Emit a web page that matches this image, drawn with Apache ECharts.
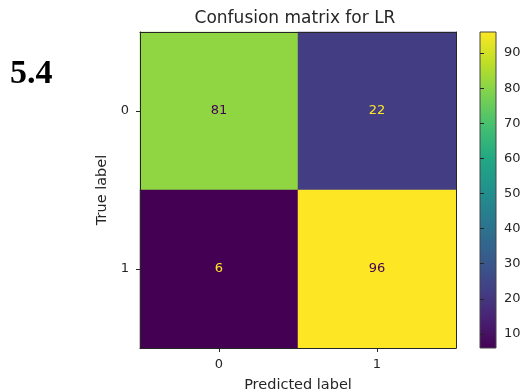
<!DOCTYPE html>
<html>
<head>
<meta charset="utf-8">
<script src="https://cdn.jsdelivr.net/npm/echarts@6/dist/echarts.min.js"></script>
<style>
  html, body { margin: 0; padding: 0; background: #fff; }
  #chart { width: 524px; height: 391px; position: relative; }
  #tag { position: absolute; left: 10px; top: 53px; line-height: 1; font: bold 34px "Liberation Serif", "DejaVu Serif", serif; color: #000; }
</style>
</head>
<body>
<div id="chart"></div>
<div id="tag">5.4</div>
<script>
// Confusion matrix for a logistic regression classifier
const predictedLabels = ['0', '1'];
const trueLabels = ['0', '1'];
// counts[row = true label][col = predicted label]
const counts = [
  [81, 22],
  [6, 96]
];
const colorbarTicks = [10, 20, 30, 40, 50, 60, 70, 80, 90];

// viridis colour stops
const viridis = ['#440154', '#482475', '#414487', '#355f8d', '#2a788e', '#21918c',
                 '#22a884', '#44bf70', '#7ad151', '#bddf26', '#fde725'];

let vMin = Infinity, vMax = -Infinity;
const cells = [];
counts.forEach((row, r) => row.forEach((v, c) => {
  cells.push([c, r, v]);
  vMin = Math.min(vMin, v);
  vMax = Math.max(vMax, v);
}));
const threshold = (vMin + vMax) / 2;

const textFont = 'DejaVu Sans';
const ink = '#262626';
const chart = echarts.init(document.getElementById('chart'), null, { renderer: 'canvas' });

chart.setOption({
  animation: false,
  backgroundColor: '#fff',
  textStyle: { fontFamily: textFont },
  title: {
    text: 'Confusion matrix for LR',
    left: 290, top: 5, textAlign: 'center',
    textStyle: { fontFamily: textFont, fontSize: 17, fontWeight: 'normal', color: ink }
  },
  grid: [
    { left: 140, top: 32, width: 316, height: 316, outerBoundsMode: 'none', containLabel: false },
    { left: 480, top: 32, width: 16, height: 316, outerBoundsMode: 'none', containLabel: false }
  ],
  xAxis: [
    {
      type: 'category', data: predictedLabels, gridIndex: 0, position: 'bottom', z: 5,
      name: 'Predicted label', nameLocation: 'middle', nameGap: 30,
      nameTextStyle: { fontFamily: textFont, fontSize: 14.5, color: ink },
      axisLine: { show: true, lineStyle: { color: ink, width: 1 } },
      axisTick: { show: true, alignWithLabel: true, length: 4, lineStyle: { color: ink } },
      axisLabel: { fontFamily: textFont, fontSize: 13, color: ink, margin: 10 },
      splitLine: { show: false }
    },
    {
      type: 'category', data: predictedLabels, gridIndex: 0, position: 'top', z: 5,
      axisLine: { show: true, lineStyle: { color: ink, width: 1 } },
      axisTick: { show: false }, axisLabel: { show: false }, splitLine: { show: false }
    },
    {
      type: 'value', gridIndex: 1, min: 0, max: 1, show: false
    }
  ],
  yAxis: [
    {
      type: 'category', data: trueLabels, gridIndex: 0, inverse: true, position: 'left', z: 5,
      name: 'True label', nameLocation: 'middle', nameGap: 24, nameRotate: 90,
      nameTextStyle: { fontFamily: textFont, fontSize: 14.5, color: ink },
      axisLine: { show: true, lineStyle: { color: ink, width: 1 } },
      axisTick: { show: true, alignWithLabel: true, length: 4, lineStyle: { color: ink } },
      axisLabel: { fontFamily: textFont, fontSize: 13, color: ink, margin: 11 },
      splitLine: { show: false }
    },
    {
      type: 'category', data: trueLabels, gridIndex: 0, inverse: true, position: 'right', z: 5,
      axisLine: { show: true, lineStyle: { color: ink, width: 1 } },
      axisTick: { show: false }, axisLabel: { show: false }, splitLine: { show: false }
    },
    {
      type: 'value', gridIndex: 1, min: vMin, max: vMax, position: 'right', z: 5,
      axisLine: { show: false },
      axisTick: { show: true, length: 4, lineStyle: { color: ink }, customValues: colorbarTicks },
      axisLabel: { fontFamily: textFont, fontSize: 13, color: ink, margin: 8, customValues: colorbarTicks },
      splitLine: { show: false }
    }
  ],
  visualMap: {
    show: false, type: 'continuous', min: vMin, max: vMax, seriesIndex: 0,
    inRange: { color: viridis }
  },
  series: [
    {
      type: 'heatmap', xAxisIndex: 0, yAxisIndex: 0,
      data: cells.map(d => ({
        value: d,
        // light text on dark cells, dark text on light cells
        label: { color: d[2] < threshold ? viridis[viridis.length - 1] : viridis[0] }
      })),
      itemStyle: { borderWidth: 0 },
      label: {
        show: true, fontFamily: textFont, fontSize: 13,
        formatter: p => String(p.value[2])
      }
    },
    {
      // colour bar: one gradient-filled rectangle spanning the value range
      type: 'custom', xAxisIndex: 2, yAxisIndex: 2, silent: true,
      data: [[0, vMin, 1, vMax]],
      renderItem: (params, api) => {
        const p0 = api.coord([api.value(0), api.value(3)]);
        const p1 = api.coord([api.value(2), api.value(1)]);
        const stops = viridis.map((c, i) => ({ offset: 1 - i / (viridis.length - 1), color: c }));
        return {
          type: 'rect',
          shape: { x: p0[0], y: p0[1], width: p1[0] - p0[0], height: p1[1] - p0[1] },
          style: {
            fill: new echarts.graphic.LinearGradient(0, 0, 0, 1, stops),
            stroke: '#444', lineWidth: 1
          }
        };
      }
    }
  ]
});
</script>
</body>
</html>
